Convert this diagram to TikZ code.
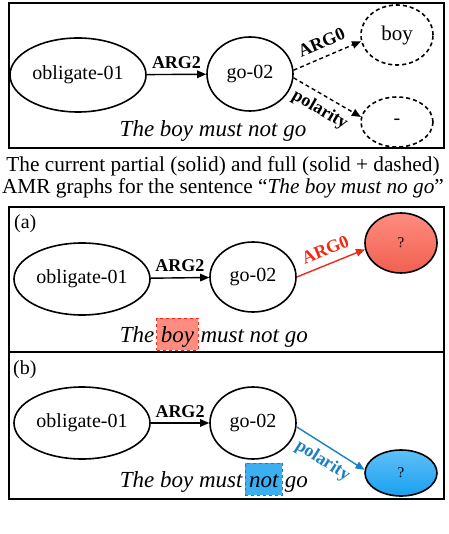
\documentclass[tikz,border=0pt]{standalone}
\usepackage{fontspec}
\setmainfont{Liberation Serif}
\usepackage{xcolor}
\usepackage{tikz}
\usetikzlibrary{shapes.geometric,arrows.meta,positioning,calc}

\definecolor{argred}{RGB}{240,40,20}
\definecolor{qred}{RGB}{240,96,80}
\definecolor{qredlt}{RGB}{255,140,128}
\definecolor{polblue}{RGB}{25,128,196}
\definecolor{qblue}{RGB}{25,160,240}
\definecolor{qbluelt}{RGB}{95,192,248}

\begin{document}
\begin{tikzpicture}[x=1pt, y=-1pt,
    panel/.style={draw, line width=2pt},
    concept/.style={ellipse, draw, line width=1.6pt, inner sep=0pt, font=\fontsize{20}{24}\selectfont},
    guess/.style={concept, font=\fontsize{15}{18}\selectfont},
    dashes/.style={dash pattern=on 4pt off 3pt},
    edge/.style={line width=1.4pt, -{Triangle[length=9pt,width=7.5pt]}},
    rel/.style={font=\fontsize{18}{20}\selectfont\bfseries, inner sep=2pt},
    sent/.style={font=\fontsize{23}{26}\selectfont\itshape, inner sep=0pt},
    capline/.style={font=\fontsize{21.3}{24}\selectfont, inner sep=0pt, anchor=base},
    hlbox/.style={sent, dashed, line width=1pt, inner xsep=4pt, inner ysep=2pt, text height=22pt, text depth=6pt}]
    \useasboundingbox (0,0) rectangle (448,534);

    % partial / full AMR graph
    \draw[panel] (9,3) rectangle (444,148);
    \node[concept, minimum width=136, minimum height=74] (ob) at (78,75) {obligate-01};
    \node[concept, minimum width=86, minimum height=74] (go) at (250,74) {go-02};
    \node[concept, dashes, minimum width=72, minimum height=60, font=\fontsize{21}{24}\selectfont] (boy) at (397,35) {boy};
    \node[concept, dashes, minimum width=72, minimum height=50] (neg) at (397,122) {-};
    \draw[edge] (ob) -- (go) node[midway, above=3pt, rel] {ARG2};
    \draw[edge, dashes] (go.5) -- (boy.190) node[midway, sloped, above=6pt, rel] {ARG0};
    \draw[edge, dashes] (go.-5) -- (neg.172) node[midway, sloped, below=4pt, rel] {polarity};
    \node[sent, anchor=base] (sent) at (213,137) {The boy must not go};

    % caption
    \node[capline] (cap1) at (223,172) {The current partial (solid) and full (solid + dashed)};
    \node[capline] (cap2) at (223,194) {AMR graphs for the sentence “\textit{The boy must no go}”};

    % (a) predicting ARG0
    \draw[panel] (9,207) rectangle (444,352);
    \node[anchor=base west, inner sep=0pt, font=\fontsize{20}{24}\selectfont] (taga) at (14,229) {(a)};
    \node[concept, minimum width=136, minimum height=72] (oba) at (82,279) {obligate-01};
    \node[concept, minimum width=86, minimum height=70] (goa) at (253,277) {go-02};
    \node[guess, minimum width=72, minimum height=60, top color=qredlt, bottom color=qred] (qa) at (401,243) {?};
    \draw[edge] (oba) -- (goa) node[midway, above=3pt, rel] {ARG2};
    \draw[edge, argred] (goa.east) -- (qa.190) node[midway, sloped, above=6pt, rel] {ARG0};
    \node[sent, anchor=base west] (sa1) at (119.7,342) {The};
    \node[hlbox, draw=argred, fill=qredlt, base right=1.75pt of sa1] (sa2) {boy};
    \node[sent, base right=1.75pt of sa2] (sa3) {must not go};

    % (b) predicting polarity
    \draw[panel] (9,352) rectangle (444,499);
    \node[anchor=base west, inner sep=0pt, font=\fontsize{20}{24}\selectfont] (tagb) at (13,374) {(b)};
    \node[concept, minimum width=136, minimum height=72] (obb) at (82,423) {obligate-01};
    \node[concept, minimum width=86, minimum height=72] (gob) at (253,423) {go-02};
    \node[guess, minimum width=72, minimum height=46, top color=qbluelt, bottom color=qblue] (qb) at (401,473) {?};
    \draw[edge] (obb) -- (gob) node[midway, above=3pt, rel] {ARG2};
    \draw[edge, polblue] (gob.-5) -- (qb.175) node[midway, sloped, below=4pt, rel] {polarity};
    \node[sent, anchor=base west] (sb1) at (119.7,487) {The boy must};
    \node[hlbox, draw=polblue, fill=qblue!85, base right=1.75pt of sb1] (sb2) {not};
    \node[sent, base right=1.75pt of sb2] (sb3) {go};
\end{tikzpicture}
\end{document}
